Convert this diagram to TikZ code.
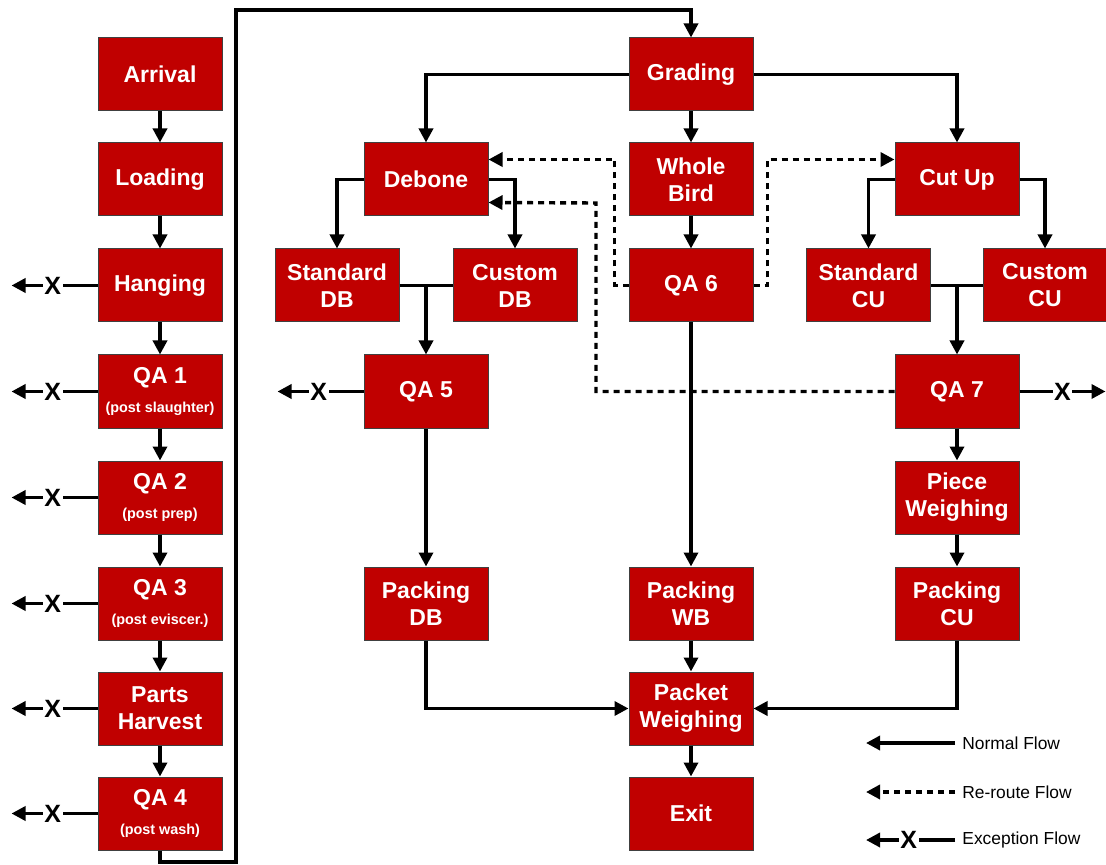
\documentclass[tikz,border=0pt]{standalone}
\usepackage{fontspec}
\setmainfont{Liberation Sans}
\usepackage{tikz}
\usetikzlibrary{arrows.meta,calc}
\definecolor{boxred}{RGB}{192,0,0}
\tikzset{
  box/.style={draw=black!75,line width=0.5pt,fill=boxred,text=white,
    font=\bfseries\fontsize{11.5}{13.5}\selectfont,align=center,
    minimum width=62pt,minimum height=36.5pt,inner sep=0pt},
  flow/.style={line width=1.7pt,-{Triangle[length=7pt,width=7pt]}},
  plain/.style={line width=1.7pt},
  reroute/.style={flow,dash pattern=on 3pt off 2.5pt},
  xmark/.style={fill=white,inner sep=0.8pt,font=\bfseries\fontsize{12.5}{13}\selectfont},
  legend/.style={anchor=west,inner sep=0pt,font=\fontsize{8.7}{10}\selectfont}
}
\newcommand{\qasub}[1]{\\[1pt]{\fontsize{7.2}{8}\selectfont #1}}
\begin{document}
\begin{tikzpicture}[x=0.5pt,y=-0.5pt]
\useasboundingbox (0,0) rectangle (1106,865);
% left column
\node[box] (arrival) at (160,74.5) {Arrival};
\node[box] (loading) at (160,179.5) {Loading};
\node[box] (hanging) at (160,285.5) {Hanging};
\node[box] (qa1) at (160,391.5) {QA 1\qasub{(post slaughter)}};
\node[box] (qa2) at (160,497.5) {QA 2\qasub{(post prep)}};
\node[box] (qa3) at (160,603.5) {QA 3\qasub{(post eviscer.)}};
\node[box] (harvest) at (160,708.5) {Parts\\Harvest};
\node[box] (qa4) at (160,813.5) {QA 4\qasub{(post wash)}};
% middle column
\node[box] (grading) at (691,74.5) {Grading};
\node[box] (whole) at (691,179.5) {Whole\\Bird};
\node[box] (qa6) at (691,285.5) {QA 6};
\node[box] (packwb) at (691,603.5) {Packing\\WB};
\node[box] (packet) at (691,708.5) {Packet\\Weighing};
\node[box] (exit) at (691,813.5) {Exit};
% debone branch
\node[box] (debone) at (426,179.5) {Debone};
\node[box] (stddb) at (337,285.5) {Standard\\DB};
\node[box] (custdb) at (515,285.5) {Custom\\DB};
\node[box] (qa5) at (426,391.5) {QA 5};
\node[box] (packdb) at (426,603.5) {Packing\\DB};
% cut up branch
\node[box] (cutup) at (957,179.5) {Cut Up};
\node[box] (stdcu) at (868.5,285.5) {Standard\\CU};
\node[box] (custcu) at (1045,285.5) {Custom\\CU};
\node[box] (qa7) at (957,391.5) {QA 7};
\node[box] (piece) at (957,497.5) {Piece\\Weighing};
\node[box] (packcu) at (957,603.5) {Packing\\CU};
% normal flow
\draw[flow] (arrival) -- (loading);
\draw[flow] (loading) -- (hanging);
\draw[flow] (hanging) -- (qa1);
\draw[flow] (qa1) -- (qa2);
\draw[flow] (qa2) -- (qa3);
\draw[flow] (qa3) -- (harvest);
\draw[flow] (harvest) -- (qa4);
\draw[flow] (qa4.south) |- (236,862) -- (236,10) -| (grading.north);
\draw[flow] (grading.west) -| (debone.north);
\draw[flow] (grading.east) -| (cutup.north);
\draw[flow] (grading) -- (whole);
\draw[flow] (whole) -- (qa6);
\draw[flow] (qa6) -- (packwb);
\draw[flow] (packwb) -- (packet);
\draw[flow] (packet) -- (exit);
\draw[flow] (debone.west) -| (stddb.north);
\draw[flow] (debone.east) -| (custdb.north);
\draw[plain] (stddb.east) -- (custdb.west);
\draw[flow] (stddb.east -| qa5.north) -- (qa5.north);
\draw[flow] (qa5) -- (packdb);
\draw[flow] (packdb.south) |- (packet.west);
\draw[flow] (cutup.west) -| (stdcu.north);
\draw[flow] (cutup.east) -| (custcu.north);
\draw[plain] (stdcu.east) -- (custcu.west);
\draw[flow] (stdcu.east -| qa7.north) -- (qa7.north);
\draw[flow] (qa7) -- (piece);
\draw[flow] (piece) -- (packcu);
\draw[flow] (packcu.south) |- (packet.east);
% re-route flow
\draw[reroute] (qa6.west) -- ++(-14,0) |- ($(debone.east)+(0,-20)$);
\draw[reroute] (qa7.west) -| (596,203) -- ($(debone.east)+(0,23)$);
\draw[reroute] (qa6.east) -- ++(14,0) |- ($(cutup.west)+(0,-20)$);
% exception flow
\draw[flow] (hanging.west) -- ++(-86,0) node[xmark,pos=0.52] {X};
\draw[flow] (qa1.west) -- ++(-86,0) node[xmark,pos=0.52] {X};
\draw[flow] (qa2.west) -- ++(-86,0) node[xmark,pos=0.52] {X};
\draw[flow] (qa3.west) -- ++(-86,0) node[xmark,pos=0.52] {X};
\draw[flow] (harvest.west) -- ++(-86,0) node[xmark,pos=0.52] {X};
\draw[flow] (qa4.west) -- ++(-86,0) node[xmark,pos=0.52] {X};
\draw[flow] (qa5.west) -- ++(-86,0) node[xmark,pos=0.52] {X};
\draw[flow] (qa7.east) -- ++(86,0) node[xmark,pos=0.5] {X};
% legend
\node[legend] (lgnormal) at (962,743) {Normal Flow};
\node[legend] (lgreroute) at (962,792) {Re-route Flow};
\node[legend] (lgexcept) at (962,840) {Exception Flow};
\draw[flow] ([xshift=-3.5pt]lgnormal.west) -- ++(-89,0);
\draw[reroute] ([xshift=-3.5pt]lgreroute.west) -- ++(-89,0);
\draw[flow] ([xshift=-3.5pt]lgexcept.west) -- ++(-89,0) node[xmark,pos=0.52] {X};
\end{tikzpicture}
\end{document}
